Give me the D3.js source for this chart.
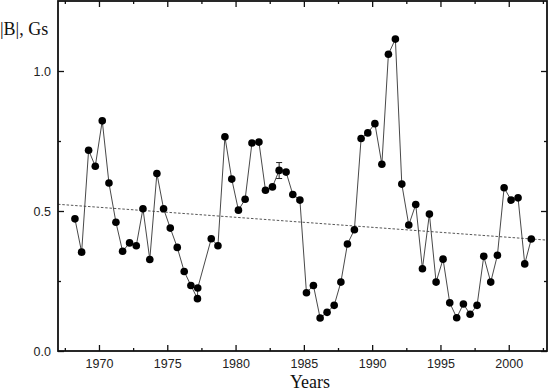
<!DOCTYPE html>
<html>
<head>
<meta charset="utf-8">
<script src="https://cdn.jsdelivr.net/npm/d3@7"></script>
<style>
  body { margin: 0; background: #fff; }
  svg { display: block; }
  .tick text { font-family: "Liberation Sans", Arial, sans-serif; font-size: 12.5px; fill: #222; }
  .title { font-family: "Liberation Serif", "Times New Roman", serif; font-size: 18px; fill: #111; }
</style>
</head>
<body>
<script>
// semi-annual |B| values
const years = [
  1968.24, 1968.73, 1969.24, 1969.73, 1970.24, 1970.73, 1971.24, 1971.73, 1972.24, 1972.73,
  1973.22, 1973.72, 1974.24, 1974.73, 1975.22, 1975.73, 1976.24, 1976.73, 1977.21, 1977.23,
  1978.22, 1978.71, 1979.22, 1979.72, 1980.21, 1980.70, 1981.20, 1981.71, 1982.19, 1982.70,
  1983.19, 1983.70, 1984.19, 1984.71, 1985.19, 1985.70, 1986.19, 1986.70, 1987.22, 1987.71,
  1988.19, 1988.70, 1989.19, 1989.68, 1990.20, 1990.71, 1991.19, 1991.70, 1992.17, 1992.68,
  1993.19, 1993.68, 1994.19, 1994.68, 1995.19, 1995.68, 1996.19, 1996.68, 1997.17, 1997.68,
  1998.17, 1998.68, 1999.17, 1999.66, 2000.17, 2000.68, 2001.17, 2001.65
];
const values = [
  0.472, 0.353, 0.717, 0.660, 0.822, 0.600, 0.460, 0.356, 0.386, 0.376,
  0.508, 0.327, 0.634, 0.508, 0.439, 0.370, 0.284, 0.234, 0.187, 0.225,
  0.401, 0.376, 0.765, 0.614, 0.503, 0.542, 0.743, 0.746, 0.574, 0.586,
  0.645, 0.639, 0.559, 0.539, 0.208, 0.234, 0.118, 0.138, 0.163, 0.246,
  0.382, 0.433, 0.759, 0.779, 0.812, 0.667, 1.060, 1.114, 0.596, 0.450,
  0.523, 0.294, 0.489, 0.246, 0.328, 0.172, 0.119, 0.168, 0.131, 0.163,
  0.338, 0.246, 0.342, 0.583, 0.539, 0.547, 0.311, 0.400
];

// one error bar (1983)
const errYears = [1983.19];
const errLow = [0.616];
const errHigh = [0.673];

// linear trend (dotted line)
const trendYears = [1967, 2002.8];
const trendValues = [0.524, 0.396];

const xTicks = [1970, 1975, 1980, 1985, 1990, 1995, 2000];
const xMinorTicks = [1967.5, 1972.5, 1977.5, 1982.5, 1987.5, 1992.5, 1997.5, 2002.5];
const yTicks = [0.0, 0.5, 1.0];
const yMinorTicks = [0.25, 0.75];

const width = 550, height = 392;
const plotLeft = 58, plotRight = 547, plotTop = 1, plotBottom = 351;

const svg = d3.select("body").append("svg")
  .attr("width", width)
  .attr("height", height);

const x = d3.scaleLinear().domain([1967, 2002.8]).range([plotLeft, plotRight]);
const y = d3.scaleLinear().domain([0, 1.25]).range([plotBottom, plotTop]);

svg.append("clipPath").attr("id", "plot")
  .append("rect")
  .attr("x", plotLeft).attr("y", plotTop)
  .attr("width", plotRight - plotLeft).attr("height", plotBottom - plotTop);

// trend line
svg.append("path")
  .attr("clip-path", "url(#plot)")
  .attr("d", d3.line().x(d => x(d[0])).y(d => y(d[1]))(d3.zip(trendYears, trendValues)))
  .attr("fill", "none")
  .attr("stroke", "#444")
  .attr("stroke-width", 0.9)
  .attr("stroke-dasharray", "2.5,1.8");

// data line
const pts = d3.zip(years, values);
svg.append("path")
  .attr("d", d3.line().x(d => x(d[0])).y(d => y(d[1]))(pts))
  .attr("fill", "none")
  .attr("stroke", "#333")
  .attr("stroke-width", 0.9);

// error bar
const eb = svg.append("g").attr("stroke", "#222").attr("stroke-width", 1);
errYears.forEach((yr, i) => {
  eb.append("line").attr("x1", x(yr)).attr("x2", x(yr)).attr("y1", y(errLow[i])).attr("y2", y(errHigh[i]));
  eb.append("line").attr("x1", x(yr) - 3).attr("x2", x(yr) + 3).attr("y1", y(errLow[i])).attr("y2", y(errLow[i]));
  eb.append("line").attr("x1", x(yr) - 3).attr("x2", x(yr) + 3).attr("y1", y(errHigh[i])).attr("y2", y(errHigh[i]));
});

svg.append("g").selectAll("circle")
  .data(pts)
  .join("circle")
  .attr("cx", d => x(d[0]))
  .attr("cy", d => y(d[1]))
  .attr("r", 3.8)
  .attr("fill", "#000");

// axes, ticks pointing inward
function styleAxis(g) {
  g.select(".domain").remove();
  g.selectAll(".tick line").attr("stroke", "#111").attr("stroke-width", 1.3);
}

svg.append("g").attr("transform", `translate(0,${plotBottom})`)
  .call(d3.axisBottom(x).tickValues(xTicks).tickSize(-6).tickPadding(8).tickFormat(d3.format("d")))
  .call(styleAxis);
svg.append("g").attr("transform", `translate(0,${plotBottom})`)
  .call(d3.axisBottom(x).tickValues(xMinorTicks).tickSize(-3).tickFormat(""))
  .call(styleAxis);
svg.append("g").attr("transform", `translate(0,${plotTop})`)
  .call(d3.axisTop(x).tickValues(xTicks).tickSize(-6).tickFormat(""))
  .call(styleAxis);
svg.append("g").attr("transform", `translate(0,${plotTop})`)
  .call(d3.axisTop(x).tickValues(xMinorTicks).tickSize(-3).tickFormat(""))
  .call(styleAxis);

svg.append("g").attr("transform", `translate(${plotLeft},0)`)
  .call(d3.axisLeft(y).tickValues(yTicks).tickSize(-6).tickPadding(7).tickFormat(d3.format(".1f")))
  .call(styleAxis);
svg.append("g").attr("transform", `translate(${plotLeft},0)`)
  .call(d3.axisLeft(y).tickValues(yMinorTicks).tickSize(-3).tickFormat(""))
  .call(styleAxis);
svg.append("g").attr("transform", `translate(${plotRight},0)`)
  .call(d3.axisRight(y).tickValues(yTicks).tickSize(-6).tickFormat(""))
  .call(styleAxis);
svg.append("g").attr("transform", `translate(${plotRight},0)`)
  .call(d3.axisRight(y).tickValues(yMinorTicks).tickSize(-3).tickFormat(""))
  .call(styleAxis);

// frame
svg.append("rect")
  .attr("x", plotLeft).attr("y", plotTop)
  .attr("width", plotRight - plotLeft).attr("height", plotBottom - plotTop)
  .attr("fill", "none")
  .attr("stroke", "#111")
  .attr("stroke-width", 1.8);

svg.append("text").attr("class", "title")
  .attr("x", 310).attr("y", 388)
  .attr("text-anchor", "middle")
  .text("Years");

svg.append("text").attr("class", "title")
  .attr("x", 0).attr("y", 35)
  .text("|B|, Gs");
</script>
</body>
</html>
